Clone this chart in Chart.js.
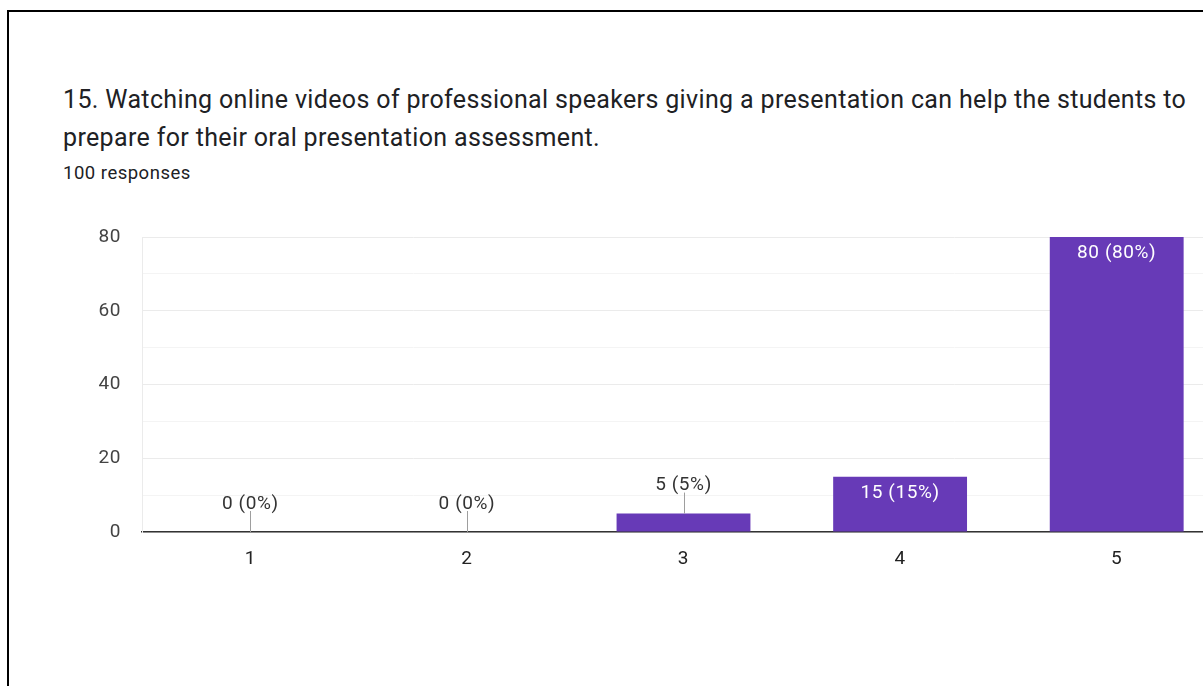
<!DOCTYPE html>
<html>
<head>
<meta charset="utf-8">
<script src="https://cdn.jsdelivr.net/npm/chart.js@4/dist/chart.umd.min.js"></script>
<style>
  html, body { margin: 0; padding: 0; background: #fff; }
  body { width: 1203px; height: 686px; overflow: hidden; position: relative; font-family: Roboto, "Noto Sans", Arial, sans-serif; }
  .frame { position: absolute; left: 7px; top: 10px; right: -10px; bottom: -10px; border-top: 2px solid #000; border-left: 2px solid #000; }
  .title { position: absolute; left: 63px; top: 81px; width: 1180px; font-size: 25px; letter-spacing: 0.35px; line-height: 38px; color: #202124; white-space: nowrap; }
  .sub { position: absolute; left: 63px; top: 162px; font-size: 18.5px; letter-spacing: 0.5px; line-height: 22px; color: #202124; }
  .wrap { position: absolute; left: 0; top: 0; width: 1240px; height: 686px; }
</style>
</head>
<body>
<div class="frame"></div>
<div class="title">15. Watching online videos of professional speakers giving a presentation can help the students to<br>prepare for their oral presentation assessment.</div>
<div class="sub">100 responses</div>
<div class="wrap"><canvas id="c" width="1240" height="686"></canvas></div>
<script>
// Answer scale and number of responses for each answer
const categories = ['1', '2', '3', '4', '5'];
const responses = [0, 0, 5, 15, 80];
const yTickLabels = [0, 20, 40, 60, 80];
const totalResponses = 100;

const BAR_COLOR = '#673ab7';
const FONT = 'Roboto, "Noto Sans", Arial, sans-serif';

// Slightly open letter spacing for all canvas text
const spacing = {
  id: 'spacing',
  beforeDraw(chart) { chart.ctx.letterSpacing = '0.6px'; }
};

// Draws "n (p%)" above short bars with a leader line, or inside taller bars
const valueLabels = {
  id: 'valueLabels',
  afterDatasetsDraw(chart) {
    const ctx = chart.ctx;
    const meta = chart.getDatasetMeta(0);
    ctx.save();
    ctx.font = '19px ' + FONT;
    ctx.textAlign = 'center';
    ctx.textBaseline = 'middle';
    meta.data.forEach((bar, i) => {
      const v = responses[i];
      const pct = Math.round(v / totalResponses * 100);
      const text = v + ' (' + pct + '%)';
      const h = bar.base - bar.y;
      if (h >= 30) {
        ctx.fillStyle = '#ffffff';
        ctx.fillText(text, bar.x, bar.y + 16.5);
      } else {
        ctx.strokeStyle = '#9e9e9e';
        ctx.lineWidth = 1;
        ctx.beginPath();
        ctx.moveTo(Math.round(bar.x) + 0.5, bar.y);
        ctx.lineTo(Math.round(bar.x) + 0.5, bar.y - 21);
        ctx.stroke();
        ctx.fillStyle = '#333333';
        ctx.fillText(text, bar.x, bar.y - 28);
      }
    });
    ctx.restore();
  }
};

new Chart(document.getElementById('c'), {
  type: 'bar',
  data: {
    labels: categories,
    datasets: [{
      data: responses,
      backgroundColor: BAR_COLOR,
      borderWidth: 0,
      barPercentage: 0.618,
      categoryPercentage: 1.0
    }]
  },
  options: {
    responsive: false,
    animation: false,
    events: [],
    layout: { padding: { left: 0, top: 237, right: 15, bottom: 100 } },
    plugins: { legend: { display: false }, tooltip: { enabled: false }, title: { display: false } },
    scales: {
      x: {
        grid: { display: false },
        border: { display: true, color: '#333333', width: 1.5 },
        ticks: { color: '#222222', font: { family: FONT, size: 19 }, padding: 8 },
        afterFit(scale) { scale.height = 54; }
      },
      y: {
        min: 0,
        max: 80,
        afterBuildTicks(scale) {
          const t = [];
          for (let v = 0; v <= 80; v += 10) t.push({ value: v });
          scale.ticks = t;
        },
        grid: {
          color: (c) => (yTickLabels.includes(c.tick.value) ? '#ebebeb' : '#f4f4f4'),
          drawTicks: false,
          lineWidth: 1
        },
        border: { display: true, color: '#ebebeb' },
        ticks: {
          color: '#444444',
          font: { family: FONT, size: 19 },
          padding: 21,
          callback: (v) => (yTickLabels.includes(v) ? String(v) : '')
        },
        afterFit(scale) { scale.width = 142; }
      }
    }
  },
  plugins: [spacing, valueLabels]
});
</script>
</body>
</html>
